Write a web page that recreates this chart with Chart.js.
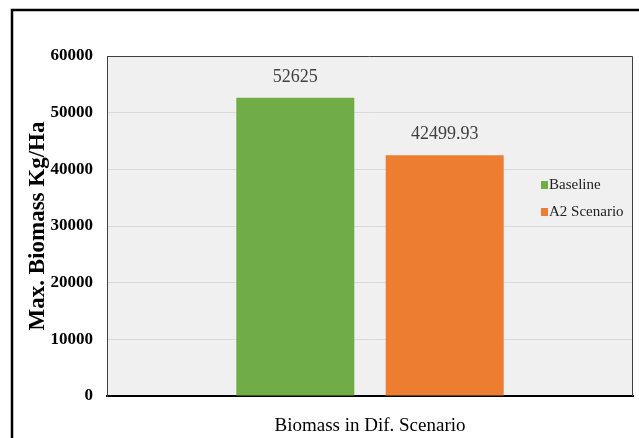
<!DOCTYPE html>
<html lang="en">
<head>
<meta charset="UTF-8">
<title>Biomass in Dif. Scenario</title>
<script src="https://cdn.jsdelivr.net/npm/chart.js"></script>
<style>
    body { margin: 0; background: #fff; }
    .grafico { width: 639px; height: 438px; }
</style>
</head>
<body>
<div class="grafico">
    <canvas id="canva1"></canvas>
</div>
<script>
    // data
    var categorias = ["Biomass in Dif. Scenario"];
    var series = ["Baseline", "A2 Scenario"];
    var baseline = [52625];
    var cenarioA2 = [42499.93];
    var ticksY = [0, 10000, 20000, 30000, 40000, 50000, 60000];

    var serif = "'Liberation Serif', 'Times New Roman', serif";

    // white page, outer frame and grey plot area
    var fundo = {
        id: "fundo",
        beforeDraw: function (chart) {
            var ctx = chart.ctx;
            var a = chart.chartArea;
            ctx.save();
            ctx.fillStyle = "#fff";
            ctx.fillRect(0, 0, chart.width, chart.height);
            ctx.strokeStyle = "#000";
            ctx.lineWidth = 2.5;
            ctx.strokeRect(12, 10, 640, 440);
            ctx.fillStyle = "#f0f0f0";
            ctx.fillRect(a.left, a.top, a.right - a.left, a.bottom - a.top);
            ctx.restore();
        },
        afterDraw: function (chart) {
            var ctx = chart.ctx;
            var a = chart.chartArea;
            ctx.save();
            // top and right edges of plot
            ctx.strokeStyle = "#404040";
            ctx.lineWidth = 1;
            ctx.beginPath();
            ctx.moveTo(a.left, a.top + 0.5);
            ctx.lineTo(a.right - 0.5, a.top + 0.5);
            ctx.lineTo(a.right - 0.5, a.bottom);
            ctx.stroke();

            // value labels over the bars
            ctx.font = "18px " + serif;
            ctx.fillStyle = "#404040";
            ctx.textAlign = "center";
            ctx.textBaseline = "bottom";
            chart.data.datasets.forEach(function (ds, i) {
                chart.getDatasetMeta(i).data.forEach(function (bar, j) {
                    ctx.fillText(String(ds.data[j]), bar.x, bar.y - 12);
                });
            });

            // legend inside the plot, right side
            ctx.font = "15px " + serif;
            ctx.textAlign = "left";
            ctx.textBaseline = "middle";
            chart.data.datasets.forEach(function (ds, i) {
                var y = 185 + i * 27;
                ctx.fillStyle = ds.backgroundColor;
                ctx.fillRect(541, y - 4, 7, 8);
                ctx.fillStyle = "#222";
                ctx.fillText(ds.label, 549, y);
            });
            ctx.restore();
        }
    };

    new Chart(document.getElementById("canva1"), {
        type: "bar",
        data: {
            labels: categorias,
            datasets: [
                {
                    label: series[0],
                    data: baseline,
                    backgroundColor: "#70ad47",
                    borderWidth: 0,
                },
                {
                    label: series[1],
                    data: cenarioA2,
                    backgroundColor: "#ed7d31",
                    borderWidth: 0,
                },
            ],
        },
        options: {
            responsive: true,
            maintainAspectRatio: false,
            animation: false,
            devicePixelRatio: 1,
            categoryPercentage: 0.568,
            barPercentage: 0.79,
            layout: {
                padding: { left: 12, top: 56, right: 6, bottom: 0 },
            },
            plugins: {
                legend: { display: false },
                tooltip: { enabled: false },
            },
            scales: {
                x: {
                    grid: { display: false },
                    border: { color: "#000", width: 2 },
                    ticks: {
                        color: "#000",
                        padding: 11,
                        font: { family: serif, size: 19 },
                    },
                    afterFit: function (s) { s.height = 42; },
                },
                y: {
                    min: 0,
                    max: 60000,
                    afterBuildTicks: function (s) {
                        s.ticks = ticksY.map(function (v) { return { value: v }; });
                    },
                    grid: {
                        color: function (c) {
                            return c.tick.value === 0 || c.tick.value === 60000 ? "rgba(0,0,0,0)" : "#d9d9d9";
                        },
                        drawTicks: false,
                    },
                    border: { color: "#404040", width: 1 },
                    ticks: {
                        color: "#000",
                        padding: 14,
                        font: { family: serif, size: 17, weight: "bold" },
                        callback: function (v) { return String(v); },
                    },
                    title: {
                        display: true,
                        text: "Max. Biomass Kg/Ha",
                        color: "#000",
                        padding: { top: 12, bottom: 0 },
                        font: { family: serif, size: 23, weight: "bold" },
                    },
                    afterFit: function (s) { s.width = 95; },
                },
            },
        },
        plugins: [fundo],
    });
</script>
</body>
</html>
